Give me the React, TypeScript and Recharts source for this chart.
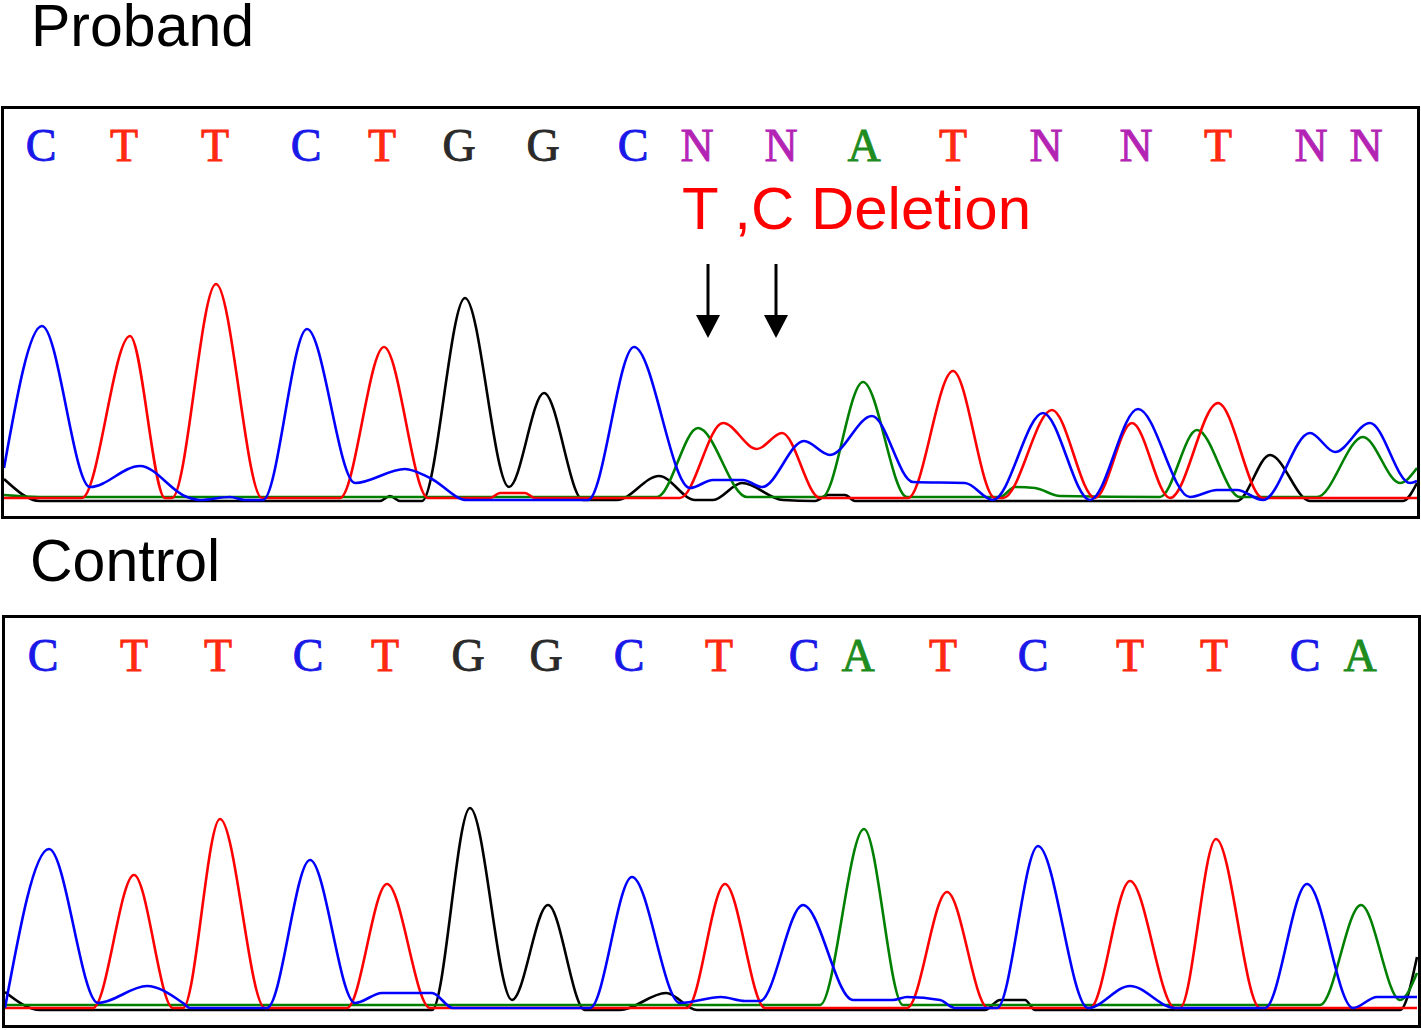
import { LineChart, Line, XAxis, YAxis, ReferenceLine, ReferenceDot } from "recharts";

// called bases above each trace, with their scan positions
const probandBases = ["C", "T", "T", "C", "T", "G", "G", "C", "N", "N", "A", "T", "N", "N", "T", "N", "N"];
const probandBasePos = [41, 124, 215, 306, 382, 459, 543, 633, 697, 781, 864, 953, 1046, 1136, 1218, 1311, 1366];
const controlBases = ["C", "T", "T", "C", "T", "G", "G", "C", "T", "C", "A", "T", "C", "T", "T", "C", "A"];
const controlBasePos = [43, 134, 218, 308, 385, 468, 546, 629, 719, 804, 858, 943, 1033, 1130, 1214, 1305, 1360];
const letterLevel = 356;

// proband traces (scan position, signal)
const probandC = [
  { x: 4, v: 33 }, { x: 42, v: 175 }, { x: 90, v: 14 }, { x: 140, v: 35 }, { x: 187, v: 4 }, { x: 200, v: 1 },
  { x: 230, v: 4 }, { x: 245, v: 1 }, { x: 263, v: 1 }, { x: 307, v: 172 }, { x: 355, v: 18 }, { x: 405, v: 32 },
  { x: 430, v: 23 }, { x: 467, v: 1 }, { x: 588, v: 1 }, { x: 634, v: 154 }, { x: 690, v: 13 }, { x: 713, v: 21 },
  { x: 743, v: 21 }, { x: 762, v: 14 }, { x: 804, v: 60 }, { x: 830, v: 46 }, { x: 872, v: 85 }, { x: 913, v: 19 },
  { x: 965, v: 18 }, { x: 993, v: 1 }, { x: 1043, v: 88 }, { x: 1090, v: 1 }, { x: 1138, v: 92 }, { x: 1190, v: 4 },
  { x: 1217, v: 11 }, { x: 1237, v: 11 }, { x: 1263, v: 1 }, { x: 1310, v: 68 }, { x: 1335, v: 49 }, { x: 1370, v: 78 },
  { x: 1410, v: 18 }, { x: 1417, v: 20 },
];
const probandT = [
  { x: 4, v: 3 }, { x: 82, v: 3 }, { x: 130, v: 165 }, { x: 165, v: 3 }, { x: 172, v: 3 }, { x: 216, v: 217 },
  { x: 262, v: 3 }, { x: 340, v: 3 }, { x: 384, v: 154 }, { x: 428, v: 3 }, { x: 490, v: 3 }, { x: 500, v: 8 },
  { x: 525, v: 8 }, { x: 535, v: 3 }, { x: 680, v: 3 }, { x: 723, v: 78 }, { x: 757, v: 52 }, { x: 782, v: 68 },
  { x: 820, v: 3 }, { x: 908, v: 3 }, { x: 953, v: 130 }, { x: 995, v: 3 }, { x: 1003, v: 3 }, { x: 1052, v: 91 },
  { x: 1095, v: 3 }, { x: 1132, v: 78 }, { x: 1170, v: 3 }, { x: 1218, v: 98 }, { x: 1263, v: 3 }, { x: 1417, v: 3 },
];
const probandA = [
  { x: 4, v: 6 }, { x: 40, v: 4 }, { x: 657, v: 4 }, { x: 698, v: 73 }, { x: 747, v: 4 }, { x: 822, v: 4 },
  { x: 863, v: 119 }, { x: 907, v: 4 }, { x: 1000, v: 4 }, { x: 1015, v: 14 }, { x: 1035, v: 13 }, { x: 1060, v: 5 },
  { x: 1160, v: 4 }, { x: 1197, v: 71 }, { x: 1240, v: 4 }, { x: 1317, v: 4 }, { x: 1363, v: 64 }, { x: 1400, v: 18 },
  { x: 1417, v: 33 },
];
const probandG = [
  { x: 4, v: 22 }, { x: 40, v: 0 }, { x: 380, v: 0 }, { x: 390, v: 5 }, { x: 400, v: 0 }, { x: 422, v: 0 },
  { x: 465, v: 203 }, { x: 509, v: 14 }, { x: 544, v: 108 }, { x: 583, v: 1 }, { x: 617, v: 1 }, { x: 659, v: 25 },
  { x: 695, v: 1 }, { x: 713, v: 1 }, { x: 742, v: 18 }, { x: 783, v: 1 }, { x: 815, v: 0 }, { x: 828, v: 6 },
  { x: 845, v: 6 }, { x: 855, v: 0 }, { x: 1237, v: 0 }, { x: 1270, v: 46 }, { x: 1310, v: 0 }, { x: 1403, v: 0 },
  { x: 1417, v: 18 },
];

// control traces
const controlC = [
  { x: 5, v: 3 }, { x: 49, v: 162 }, { x: 98, v: 8 }, { x: 147, v: 25 }, { x: 183, v: 8 }, { x: 190, v: 3 },
  { x: 267, v: 3 }, { x: 310, v: 151 }, { x: 355, v: 8 }, { x: 382, v: 18 }, { x: 432, v: 18 }, { x: 453, v: 3 },
  { x: 590, v: 3 }, { x: 632, v: 134 }, { x: 680, v: 8 }, { x: 721, v: 14 }, { x: 745, v: 10 }, { x: 760, v: 10 },
  { x: 803, v: 106 }, { x: 853, v: 11 }, { x: 893, v: 11 }, { x: 907, v: 14 }, { x: 940, v: 11 }, { x: 955, v: 3 },
  { x: 997, v: 3 }, { x: 1038, v: 165 }, { x: 1088, v: 3 }, { x: 1130, v: 25 }, { x: 1175, v: 3 }, { x: 1265, v: 3 },
  { x: 1307, v: 127 }, { x: 1353, v: 3 }, { x: 1377, v: 14 }, { x: 1417, v: 14 },
];
const controlT = [
  { x: 5, v: 3 }, { x: 93, v: 3 }, { x: 134, v: 136 }, { x: 173, v: 3 }, { x: 183, v: 3 }, { x: 220, v: 192 },
  { x: 265, v: 3 }, { x: 347, v: 3 }, { x: 387, v: 127 }, { x: 430, v: 3 }, { x: 687, v: 3 }, { x: 725, v: 127 },
  { x: 765, v: 3 }, { x: 907, v: 3 }, { x: 947, v: 119 }, { x: 988, v: 3 }, { x: 1090, v: 3 }, { x: 1130, v: 130 },
  { x: 1175, v: 3 }, { x: 1180, v: 3 }, { x: 1216, v: 172 }, { x: 1260, v: 3 }, { x: 1417, v: 3 },
];
const controlA = [
  { x: 5, v: 6 }, { x: 820, v: 6 }, { x: 864, v: 182 }, { x: 903, v: 6 }, { x: 1320, v: 6 }, { x: 1361, v: 106 },
  { x: 1400, v: 11 }, { x: 1417, v: 38 },
];
const controlG = [
  { x: 5, v: 19 }, { x: 40, v: 1 }, { x: 432, v: 1 }, { x: 470, v: 203 }, { x: 512, v: 11 }, { x: 548, v: 106 },
  { x: 585, v: 1 }, { x: 620, v: 1 }, { x: 666, v: 18 }, { x: 697, v: 1 }, { x: 985, v: 1 }, { x: 1000, v: 11 },
  { x: 1025, v: 11 }, { x: 1035, v: 1 }, { x: 1400, v: 1 }, { x: 1417, v: 54 },
];

// deletion arrows in the proband trace
const arrowPos = [708, 776];
const arrowTop = 237;
const arrowTip = 163;

const traceColors: Record<string, string> = { G: "#000000", A: "#008000", T: "#ff0000", C: "#0000ff" };
const letterColors: Record<string, string> = { C: "#1818e8", T: "#ff2a10", G: "#2a2a2a", N: "#b424b4", A: "#1e8c1e" };

const sans = "'Liberation Sans', Arial, sans-serif";

function BaseLetter(props: any) {
  const { cx, cy, base } = props;
  const c = letterColors[base];
  return (
    <text
      x={cx}
      y={cy + 16}
      textAnchor="middle"
      fill={c}
      stroke={c}
      strokeWidth={0.9}
      fontFamily="'Liberation Serif', 'Times New Roman', serif"
      fontSize={46}
    >
      {base}
    </text>
  );
}

function ArrowHead(props: any) {
  const { cx, cy } = props;
  return <polygon points={`${cx},${cy} ${cx - 12},${cy - 23} ${cx + 12},${cy - 23}`} fill="#000" />;
}

interface PanelProps {
  top: number;
  height: number;
  bottom: number;
  yMax: number;
  bases: string[];
  positions: number[];
  traces: { G: any[]; A: any[]; T: any[]; C: any[] };
  arrows?: boolean;
}

function TracePanel({ top, height, bottom, yMax, bases, positions, traces, arrows }: PanelProps) {
  const order: ("G" | "A" | "T" | "C")[] = ["G", "A", "T", "C"];
  return (
    <div style={{ position: "absolute", left: 0, top }}>
      <LineChart width={1420} height={height} margin={{ top: 0, right: 0, bottom, left: 0 }}>
        <XAxis dataKey="x" type="number" domain={[0, 1420]} hide />
        <YAxis type="number" domain={[0, yMax]} hide />
        {order.map((k) => (
          <Line
            key={k}
            data={traces[k]}
            dataKey="v"
            type="monotone"
            stroke={traceColors[k]}
            strokeWidth={2.6}
            dot={false}
            activeDot={false}
            isAnimationActive={false}
          />
        ))}
        {positions.map((px, i) => (
          <ReferenceDot
            key={"b" + i}
            x={px}
            y={letterLevel}
            r={1}
            shape={(p: any) => <BaseLetter {...p} base={bases[i]} />}
          />
        ))}
        {arrows &&
          arrowPos.map((ax) => (
            <ReferenceLine
              key={"l" + ax}
              segment={[{ x: ax, y: arrowTop }, { x: ax, y: arrowTip + 20 }]}
              stroke="#000"
              strokeWidth={3}
            />
          ))}
        {arrows &&
          arrowPos.map((ax) => (
            <ReferenceDot key={"d" + ax} x={ax} y={arrowTip} r={1} shape={(p: any) => <ArrowHead {...p} />} />
          ))}
      </LineChart>
    </div>
  );
}

export default function App() {
  return (
    <div style={{ position: "absolute", left: 0, top: 0, width: 1421, height: 1030, background: "#fff" }}>
      <div style={{ position: "absolute", left: 31, top: 2, fontFamily: sans, fontSize: 59, lineHeight: "48px" }}>
        Proband
      </div>
      <div style={{ position: "absolute", left: 30, top: 537, fontFamily: sans, fontSize: 59, lineHeight: "48px" }}>
        Control
      </div>

      <TracePanel
        top={106}
        height={414}
        bottom={19}
        yMax={395}
        bases={probandBases}
        positions={probandBasePos}
        traces={{ G: probandG, A: probandA, T: probandT, C: probandC }}
        arrows
      />
      <TracePanel
        top={615}
        height={413}
        bottom={17}
        yMax={396}
        bases={controlBases}
        positions={controlBasePos}
        traces={{ G: controlG, A: controlA, T: controlT, C: controlC }}
      />

      <div
        style={{
          position: "absolute",
          left: 682,
          top: 179,
          fontFamily: sans,
          fontSize: 60,
          lineHeight: "60px",
          color: "#ff0000",
          whiteSpace: "nowrap",
        }}
      >
        T ,C Deletion
      </div>

      <div
        style={{ position: "absolute", left: 1, top: 106, width: 1419, height: 413, border: "3px solid #000", boxSizing: "border-box" }}
      />
      <div
        style={{ position: "absolute", left: 2, top: 615, width: 1419, height: 413, border: "3px solid #000", boxSizing: "border-box" }}
      />
    </div>
  );
}
